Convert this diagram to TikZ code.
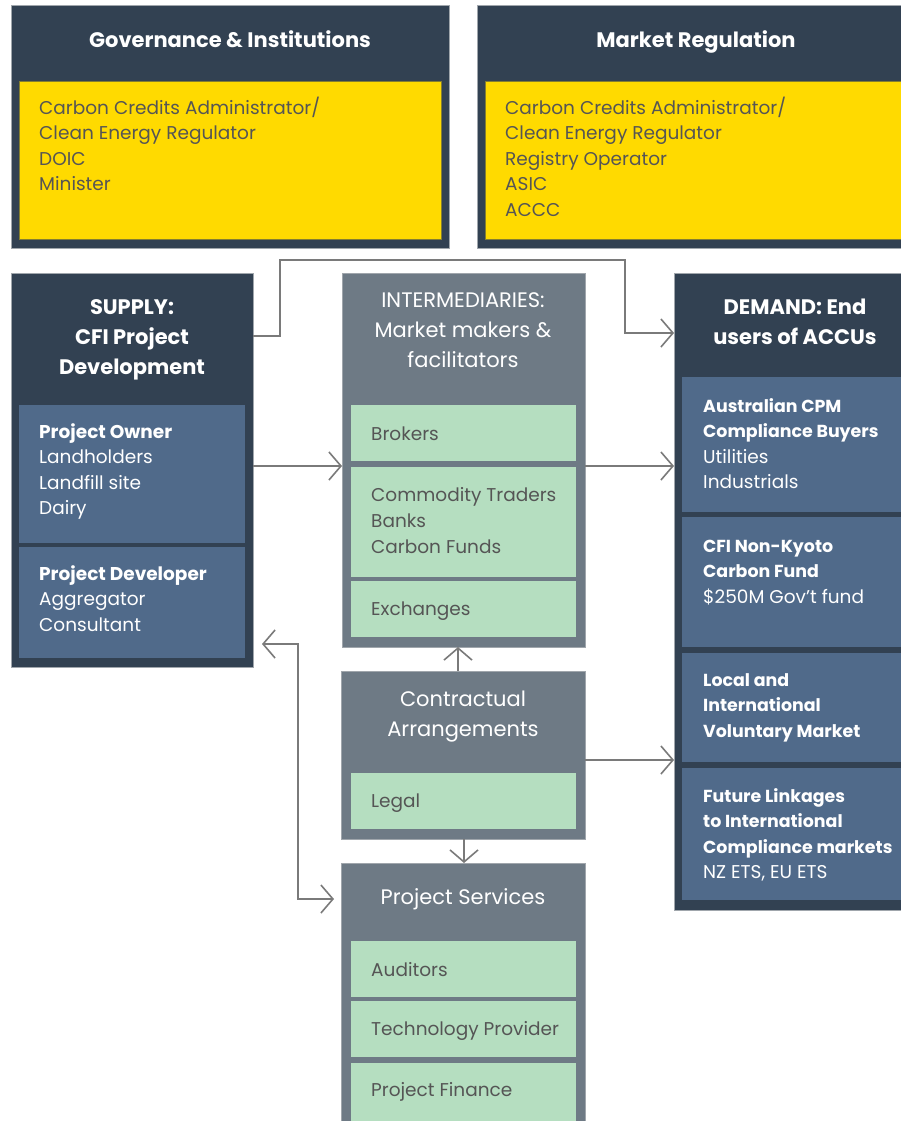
\documentclass[tikz,border=0pt]{standalone}
\usepackage{fontspec}
\setmainfont{Poppins}
\usetikzlibrary{arrows.meta}
\definecolor{navy}{HTML}{324152}
\definecolor{steel}{HTML}{506A8A}
\definecolor{slate}{HTML}{6E7A85}
\definecolor{mint}{HTML}{B5DEC0}
\definecolor{sun}{HTML}{FFDA00}
\definecolor{ink}{HTML}{555555}
\definecolor{wire}{HTML}{7A7A7A}
\definecolor{rim}{HTML}{A0A6AC}
\newcommand{\bs}{\rule{0pt}{15pt}}
\newcommand{\ts}{\rule{0pt}{17pt}}
\newcommand{\gs}{\rule[-4pt]{0pt}{17pt}}
\newcommand{\dbf}[1]{{\bfseries\fontsize{17.4}{25.2}\selectfont #1}}
\begin{document}
\begin{tikzpicture}[x=1pt,y=-1pt,
  boxbase/.style={rectangle, anchor=north west, inner sep=0pt, outer sep=0pt},
  outerdark/.style={boxbase, fill=navy, draw=rim, line width=0.8pt},
  outergray/.style={boxbase, fill=slate, draw=rim, line width=0.8pt},
  yellowbox/.style={boxbase, fill=sun, draw=navy!60!sun, line width=0.6pt},
  bluebox/.style={boxbase, fill=steel},
  greenbox/.style={boxbase, fill=mint},
  title/.style={inner sep=0pt, anchor=north, align=center, text=white, font=\fontsize{21}{30}\selectfont},
  btitle/.style={title, font=\bfseries\fontsize{21}{30}\selectfont},
  darktxt/.style={inner sep=0pt, align=left, anchor=north west, text=ink, font=\fontsize{18.5}{25.5}\selectfont},
  whitetxt/.style={inner sep=0pt, align=left, anchor=north west, text=white, font=\fontsize{18.5}{25.2}\selectfont},
  greentxt/.style={inner sep=0pt, align=left, anchor=west, text=ink, font=\fontsize{18.5}{26}\selectfont},
  barb/.tip={Straight Barb[length=12pt,width=28pt,line width=1.6pt]},
  conn/.style={draw=wire, line width=1.6pt, -barb},
  conn2/.style={draw=wire, line width=1.6pt, barb-barb}
]
\useasboundingbox (0,0) rectangle (901,1121);
\clip (0,0) rectangle (901,1121);
\fill[white] (0,0) rectangle (901,1121);

% ---------- Governance ----------
\node[outerdark, minimum width=438pt, minimum height=243pt] (gov) at (11,5) {};
\node[yellowbox, minimum width=422pt, minimum height=158pt] (govin) at (19,81) {};
\node[btitle] (govt) at (230,30.4) {\ts Governance \& Institutions};
\node[darktxt] (govtx) at (39,96.5) {\bs Carbon Credits Administrator/\\Clean Energy Regulator\\DOIC\\Minister};

% ---------- Market Regulation ----------
\node[outerdark, minimum width=440pt, minimum height=243pt] (mkt) at (477,5) {};
\node[yellowbox, minimum width=424pt, minimum height=158pt] (mktin) at (485,81) {};
\node[btitle] (mktt) at (696,30.4) {\ts Market Regulation};
\node[darktxt] (mkttx) at (505,96.5) {\bs Carbon Credits Administrator/\\Clean Energy Regulator\\Registry Operator\\ASIC\\ACCC};

% ---------- Supply ----------
\node[outerdark, minimum width=242pt, minimum height=394pt] (sup) at (11,273) {};
\node[btitle] (supt) at (132,297.4) {\ts SUPPLY:\\CFI Project\\Development};
\node[bluebox, minimum width=226pt, minimum height=138pt] (owner) at (19,405) {};
\node[bluebox, minimum width=226pt, minimum height=111pt] (dev) at (19,547) {};
\node[whitetxt] (ownertx) at (39,423.5) {\bs\textbf{Project Owner}\\Landholders\\Landfill site\\Dairy};
\node[whitetxt] (devtx) at (39,565.5) {\bs\textbf{Project Developer}\\Aggregator\\Consultant};

% ---------- Intermediaries ----------
\node[outergray, minimum width=243pt, minimum height=374pt] (inter) at (342,273) {};
\node[title] (intert) at (463,290.4) {\ts INTERMEDIARIES:\\Market makers \&\\facilitators};
\node[greenbox, minimum width=225pt, minimum height=56pt] (brk) at (351,405) {};
\node[greenbox, minimum width=225pt, minimum height=110pt] (com) at (351,467) {};
\node[greenbox, minimum width=225pt, minimum height=56pt] (exc) at (351,581) {};
\node[greentxt] (brktx) at (371,435.5) {\gs Brokers};
\node[greentxt] (comtx) at (371,522) {\gs Commodity Traders\\Banks\\Carbon Funds\gs};
\node[greentxt] (exctx) at (371,611) {\gs Exchanges};

% ---------- Contractual ----------
\node[outergray, minimum width=244pt, minimum height=168pt] (con) at (341,671) {};
\node[title] (cont) at (463,689.4) {\ts Contractual\\Arrangements};
\node[greenbox, minimum width=225pt, minimum height=56pt] (legal) at (351,773) {};
\node[greentxt] (legaltx) at (371,803) {\gs Legal};

% ---------- Project Services ----------
\node[outergray, minimum width=244pt, minimum height=280pt] (srv) at (341,863) {};
\node[title] (srvt) at (463,887.4) {\ts Project Services};
\node[greenbox, minimum width=225pt, minimum height=56pt] (aud) at (351,941) {};
\node[greenbox, minimum width=225pt, minimum height=56pt] (tech) at (351,1001) {};
\node[greenbox, minimum width=225pt, minimum height=60pt] (fin) at (351,1063) {};
\node[greentxt] (audtx) at (371,971) {\gs Auditors};
\node[greentxt] (techtx) at (371,1031) {\gs Technology Provider};
\node[greentxt] (fintx) at (371,1092) {\gs Project Finance};

% ---------- Demand ----------
\node[outerdark, minimum width=243pt, minimum height=637pt] (dem) at (674,273) {};
\node[btitle] (demt) at (795,297.4) {\ts DEMAND: End\\users of ACCUs};
\node[bluebox, minimum width=235pt, minimum height=135pt] (d1) at (682,377) {};
\node[bluebox, minimum width=235pt, minimum height=130pt] (d2) at (682,517) {};
\node[bluebox, minimum width=235pt, minimum height=109pt] (d3) at (682,653) {};
\node[bluebox, minimum width=235pt, minimum height=132pt] (d4) at (682,768) {};
\node[whitetxt] (d1tx) at (703,397.5) {\bs\dbf{Australian CPM}\\\dbf{Compliance Buyers}\\Utilities\\Industrials};
\node[whitetxt] (d2tx) at (703,537.5) {\bs\dbf{CFI Non-Kyoto}\\\dbf{Carbon Fund}\\\$250M Gov't fund};
\node[whitetxt] (d3tx) at (703,671.5) {\bs\dbf{Local and}\\\dbf{International}\\\dbf{Voluntary Market}};
\node[whitetxt] (d4tx) at (703,787.5) {\bs\dbf{Future Linkages}\\\dbf{to International}\\\dbf{Compliance markets}\\NZ ETS, EU ETS};

% ---------- Connectors ----------
\coordinate (ytop) at (0,336);
\coordinate (ymid) at (0,466);
\coordinate (ylow) at (0,760);
\coordinate (bendA) at (280,260);
\coordinate (bendB) at (625,333);
\coordinate (bendC) at (298,644);
\coordinate (bendD) at (298,899);
\coordinate (xup) at (458,0);
\coordinate (xdown) at (464,0);

\draw[conn] (sup.east |- ytop) -| (bendA) -| (bendB) -- (dem.west |- bendB);
\draw[conn] (sup.east |- ymid) -- (inter.west |- ymid);
\draw[conn] (inter.east |- ymid) -- (dem.west |- ymid);
\draw[conn] (con.east |- ylow) -- (dem.west |- ylow);
\draw[conn] (con.north -| xup) -- (inter.south -| xup);
\draw[conn] (con.south -| xdown) -- (srv.north -| xdown);
\draw[conn2] ([xshift=9pt]sup.east |- bendC) -- (bendC) -- (bendD) -- ([xshift=-7pt]srv.west |- bendD);
\end{tikzpicture}
\end{document}
